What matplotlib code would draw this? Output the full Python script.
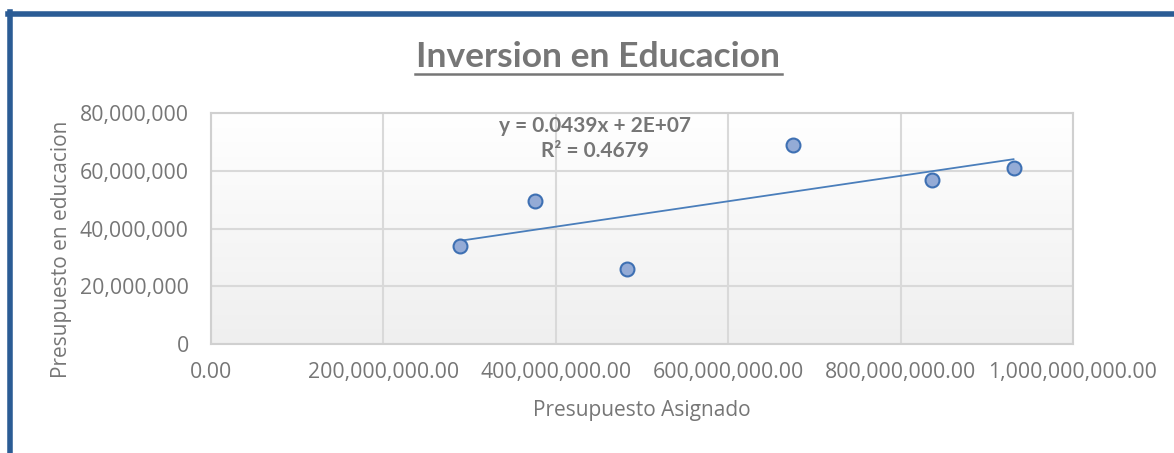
import matplotlib
matplotlib.use('Agg')
import matplotlib.pyplot as plt
from matplotlib.ticker import FuncFormatter
from matplotlib.lines import Line2D
import numpy as np

plt.rcParams['font.family'] = ['Open Sans', 'DejaVu Sans']

# data
asignado = [2.887e8, 3.757e8, 4.823e8, 6.748e8, 8.359e8, 9.31e8]
educacion = [33.9e6, 49.5e6, 26.0e6, 68.9e6, 56.8e6, 61.0e6]
titulo = 'Inversion en Educacion'
x_label = 'Presupuesto Asignado'
y_label = 'Presupuesto en educacion'
eq_text = 'y = 0.0439x + 2E+07\nR² = 0.4679'

W, H = 1174, 453
gris = '#767676'
bold_font = ['Lato', 'DejaVu Sans']
fig = plt.figure(figsize=(W / 100, H / 100), dpi=100)
ax = fig.add_axes([211 / W, 1 - 344 / H, (1073 - 211) / W, (344 - 113) / H])

# plot area gradient, white at top to light grey at bottom
grad = np.linspace(1, 0, 256).reshape(-1, 1)
cmap = matplotlib.colors.LinearSegmentedColormap.from_list('g', ['#efefef', '#ffffff'])
ax.imshow(grad, cmap=cmap, extent=[0, 1, 0, 1], transform=ax.transAxes,
          aspect='auto', zorder=0)

ax.set_xlim(0, 1e9)
ax.set_ylim(0, 80e6)
ax.set_xticks(np.arange(0, 1.01e9, 2e8))
ax.set_yticks(np.arange(0, 80.1e6, 20e6))
ax.grid(True, color='#d9d9d9', linewidth=1.5, zorder=1)
ax.set_axisbelow(True)

ax.xaxis.set_major_formatter(FuncFormatter(lambda v, p: f'{v:,.2f}'))
ax.yaxis.set_major_formatter(FuncFormatter(lambda v, p: f'{v:,.0f}'))
ax.tick_params(axis='x', length=0, labelsize=15.3, labelcolor=gris, pad=13)
ax.tick_params(axis='y', length=0, labelsize=15.3, labelcolor=gris, pad=16)

for s in ax.spines.values():
    s.set_color('#d0d0d0')
    s.set_linewidth(1.5)

# linear trendline
m, b = np.polyfit(asignado, educacion, 1)
xs = np.array([min(asignado), max(asignado)])
ax.plot(xs, m * xs + b, color='#4a7ebb', linewidth=1.3, zorder=3)

ax.scatter(asignado, educacion, s=100, color='#94abd6', edgecolor='#3e70b3',
           linewidth=1.5, zorder=4)

ax.text(0.446, 0.89, eq_text, transform=ax.transAxes, ha='center', va='center',
        fontsize=15, fontweight='bold', color=gris, linespacing=1.3,
        family=bold_font)

ax.set_xlabel(x_label, fontsize=15, color=gris, labelpad=12)
fig.text(62 / W, 1 - 249 / H, y_label, rotation=90, ha='center', va='center',
         fontsize=15, color=gris)

fig.text(598 / W, 1 - 57 / H, titulo, ha='center', va='center', fontsize=25.5,
         fontweight='bold', color=gris, family=bold_font)
# underline the title
fig.add_artist(Line2D([415 / W, 782 / W], [1 - 74 / H, 1 - 74 / H], color=gris, linewidth=1.8))

# blue frame (left and top edges visible)
fig.add_artist(Line2D([10 / W, 10 / W], [0, 1 - 12 / H], color='#2b5c95', linewidth=4))
fig.add_artist(Line2D([8 / W, 1], [1 - 14 / H, 1 - 14 / H], color='#2b5c95', linewidth=4))

fig.savefig('out.png', dpi=100)
